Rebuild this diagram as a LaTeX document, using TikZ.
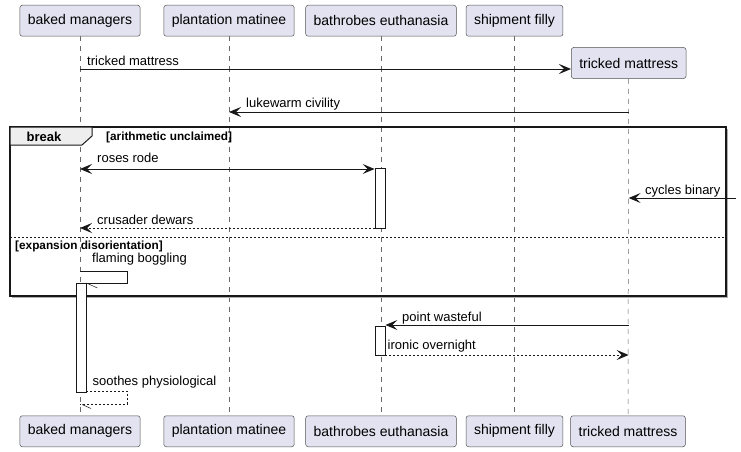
\documentclass[tikz,border=0pt]{standalone}
\usepackage{fontspec}
\setmainfont{Liberation Sans}
\usetikzlibrary{arrows.meta}
\definecolor{partfill}{HTML}{E2E2F0}
\definecolor{tabfill}{HTML}{EEEEEE}
\definecolor{ink}{HTML}{181818}

\begin{document}
\begin{tikzpicture}[x=1pt,y=-1pt,
  part/.style={draw=ink!75, line width=0.5pt, fill=partfill, rounded corners=2.5pt,
    minimum height=31pt, inner xsep=8pt, font=\fontsize{14}{16}\selectfont},
  life/.style={draw=ink!65, line width=0.5pt, dash pattern=on 5pt off 5pt},
  tip/.style={-{Stealth[length=12pt,width=10pt,inset=5pt]}},
  msg/.style={draw=ink, line width=0.9pt, tip},
  both/.style={msg, {Stealth[length=12pt,width=10pt,inset=5pt]}-{Stealth[length=12pt,width=10pt,inset=5pt]}},
  reply/.style={msg, dash pattern=on 2pt off 2pt},
  selfline/.style={draw=ink, line width=0.9pt},
  lbl/.style={anchor=base west, inner sep=0pt, font=\fontsize{13}{15}\selectfont},
  cond/.style={anchor=base west, inner sep=0pt, font=\bfseries\fontsize{11.8}{13}\selectfont},
  act/.style={draw=ink, fill=white, line width=0.9pt, minimum width=10pt, inner sep=0pt}]

  \useasboundingbox (0,0) rectangle (741,452);

  \node[part, anchor=north] (bmA) at (80,5) {baked managers};
  \node[part, anchor=north] (pmA) at (229,5) {plantation matinee};
  \node[part, anchor=north] (beA) at (381,5) {bathrobes euthanasia};
  \node[part, anchor=north] (sfA) at (514.5,5) {shipment filly};
  \node[part, anchor=west] (tmA) at (571,63) {tricked mattress};
  \node[part, anchor=south] (bmB) at (80,447) {baked managers};
  \node[part, anchor=south] (pmB) at (229,447) {plantation matinee};
  \node[part, anchor=south] (beB) at (381,447) {bathrobes euthanasia};
  \node[part, anchor=south] (sfB) at (514.5,447) {shipment filly};
  \node[part, anchor=south] (tmB) at (628,447) {tricked mattress};

  \draw[life] (bmA.south) -- (bmB.north);
  \draw[life] (pmA.south) -- (pmB.north);
  \draw[life] (beA.south) -- (beB.north);
  \draw[life] (sfA.south) -- (sfB.north);
  \draw[life] (tmA.south) -- (tmB.north);

  \draw[msg] (bmA |- 0,69) -- (tmA.west |- 0,69);
  \node[lbl] (l1) at (87,65.5) {tricked mattress};

  \draw[msg] (tmA.south |- 0,112) -- (pmA |- 0,112);
  \node[lbl] (l2) at (246,107.5) {lukewarm civility};

  % break frame
  \draw[ink!35, line width=1pt] (727.5,129) -- (727.5,297.5) -- (12,297.5);
  \draw[ink, line width=1.5pt] (10,127) rectangle (726,296);
  \draw[ink, line width=1pt, fill=tabfill] (10,127) -- (92,127) -- (92,136) -- (82,145) -- (10,145) -- cycle;
  \node[anchor=base west, inner sep=0pt, font=\bfseries\fontsize{13}{15}\selectfont] (brk) at (26.5,141) {break};
  \node[cond] (c1) at (106,140.5) {[arithmetic unclaimed]};
  \draw[ink, line width=0.8pt, dash pattern=on 2pt off 2pt] (10,237) -- (726,237);
  \node[cond] (c2) at (15,249.5) {[expansion disorientation]};

  \node[act, anchor=north, minimum height=60pt] (a1) at (380,168) {};
  \node[act, anchor=north, minimum height=109pt] (a2) at (81,283) {};
  \node[act, anchor=north, minimum height=29pt] (a3) at (380,326) {};

  \draw[both] (bmA |- 0,169) -- (a1.west |- 0,169);
  \node[lbl] (l3) at (97,162.5) {roses rode};

  \coordinate (edge) at (736,198);
  \draw[msg] (edge) -- (tmA.south |- edge);
  \node[lbl] (l4) at (645,194) {cycles binary};

  \draw[reply] (a1.west |- 0,228) -- (bmA |- 0,228);
  \node[lbl] (l5) at (97,224) {crusader dewars};

  \draw[selfline] (bmA |- 0,271) -| (127,283) -- (a2.north east);
  \draw[ink, line width=0.5pt] (a2.north east) -- ++(11,5);
  \node[lbl] (l6) at (92,262.5) {flaming boggling};

  \draw[msg] (tmA.south |- 0,325) -- (a3.east |- 0,325);
  \node[lbl] (l7) at (402,321) {point wasteful};

  \draw[reply] (a3.east |- 0,355) -- (tmA.south |- 0,355);
  \node[lbl] (l8) at (387.5,349.5) {ironic overnight};

  \draw[selfline, dash pattern=on 2pt off 2pt] (a2.east |- 0,391) -| (127,404) -- (bmA |- 0,404);
  \coordinate (back) at (82,404.5);
  \draw[ink, line width=0.5pt] (back) -- ++(9,4);
  \node[lbl] (l9) at (92.5,385.5) {soothes physiological};
\end{tikzpicture}
\end{document}
